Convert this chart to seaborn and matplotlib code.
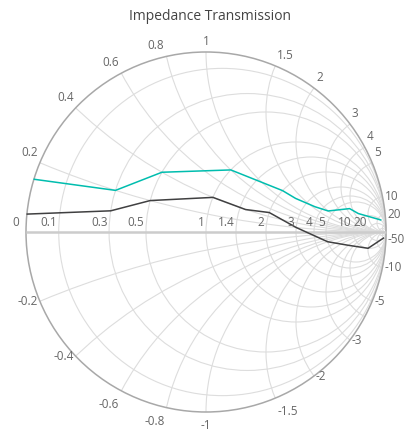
import matplotlib
matplotlib.use("Agg")
import matplotlib.pyplot as plt
from matplotlib.patches import Circle
import seaborn as sns
import numpy as np
import pandas as pd

# data: (resistance, reactance) pairs of the two transmission lines
t1_resistance = [10, 8, 6, 4.5, 3.5, 2.5, 2, 1.5, 1, 0.5, 0.3, 0.001]
t1_reactance = [25, 6, 4.5, 2, 1.6, 1.3, 1.2, 1, 0.8, 0.4, 0.2, 0.15]
t2_resistance = [20, 10, 7.5, 5, 3, 2, 1.5, 1, 0.5, 0.3, 0.001]
t2_reactance = [-50, -10, -3, -1, 0.2, 0.5, 0.4, 0.4, 0.2, 0.1, 0.05]

# axis labels
resistance_labels = ["0", "0.1", "0.3", "0.5", "1", "1.4", "2", "3", "4", "5", "10", "20"]
reactance_labels = ["0.2", "0.4", "0.6", "0.8", "1", "1.5", "2", "3", "4", "5", "10", "20",
                    "-0.2", "-0.4", "-0.6", "-0.8", "-1", "-1.5", "-2", "-3", "-5", "-10", "-50"]
grid_resistance = [0.1, 0.3, 0.5, 1, 1.4, 2, 3, 4, 5, 10, 20, 50]
grid_reactance = [0.2, 0.4, 0.6, 0.8, 1, 1.5, 2, 3, 4, 5, 10, 20, 50]


def gamma(r, x):
    z = np.asarray(r, float) + 1j * np.asarray(x, float)
    g = (z - 1) / (z + 1)
    return g.real, g.imag


W, H = 419, 448
S, CX, CY = 180, 206, 232
px = 1 / S

fig = plt.figure(figsize=(W / 100, H / 100), dpi=100)
ax = fig.add_axes([0, 0, 1, 1])
plt.rcParams["font.family"] = ["Open Sans", "DejaVu Sans"]

grid_col = "#dddddd"
clip = Circle((0, 0), 1, transform=ax.transData)

for r in grid_resistance:
    c = Circle((r / (1 + r), 0), 1 / (1 + r), fill=False, ec=grid_col, lw=0.8)
    ax.add_patch(c)
for x in grid_reactance:
    for s in (1, -1):
        c = Circle((1, s / x), 1 / x, fill=False, ec=grid_col, lw=0.8)
        ax.add_patch(c)
        c.set_clip_path(clip)

ax.add_patch(Circle((0, 0), 1, fill=False, ec="#a8a8a8", lw=1.1))
ax.plot([-1, 1], [0, 0], color="#cccccc", lw=1.8, solid_capstyle="butt")

frames = []
for name, rr, xx in [("Transmission1", t1_resistance, t1_reactance),
                     ("Transmission2", t2_resistance, t2_reactance)]:
    gr, gi = gamma(rr, xx)
    frames.append(pd.DataFrame({"gr": gr, "gi": gi, "series": name}))
df = pd.concat(frames, ignore_index=True)

sns.lineplot(data=df, x="gr", y="gi", hue="series", palette=["#00bdae", "#404041"],
             sort=False, estimator=None, lw=1.1, legend=False, ax=ax)

lab_col = "#666666"
fs = 8.5
for lab in resistance_labels:
    r = float(lab)
    g = (r - 1) / (r + 1)
    off = 7 if r == 0 else 1.5
    ax.text(g - off * px, 3 * px, lab, ha="right", va="bottom", fontsize=fs, color=lab_col)

for lab in reactance_labels:
    x = float(lab)
    gx, gy = gamma(0, x)
    gx, gy = float(gx), float(gy)
    if abs(gx) < 0.05:
        ha, dx = "center", 0
    elif gx < 0:
        ha, dx = "right", -2
    else:
        ha, dx = "left", 2
    if gy > 0:
        if abs(gy) < 0.25 and gx > 0:
            va, dy = "center", 0
        else:
            va, dy = "bottom", 4
    else:
        if abs(gy) > 0.85:
            va, dy = "top", -7
        else:
            va, dy = "center", 0
    ax.text(gx + dx * px, gy + dy * px, lab, ha=ha, va=va, fontsize=fs, color=lab_col)

ax.set_xlim(-CX / S, (W - CX) / S)
ax.set_ylim(-(H - CY) / S, CY / S)
ax.axis("off")

fig.text(0.5, 1 - 17 / H, "Impedance Transmission", ha="center", va="center",
         fontsize=10, color="#444444")

fig.savefig("out.png", dpi=100)
